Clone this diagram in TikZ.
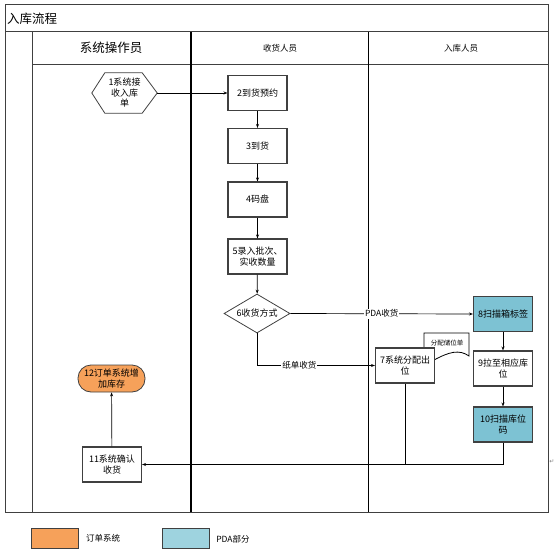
\documentclass[tikz,border=0pt]{standalone}
\usepackage{fontspec}
\setmainfont{Noto Sans CJK SC}
\newfontfamily\symfont{DejaVu Sans}
\usetikzlibrary{arrows.meta,shapes.geometric}
\definecolor{ordercol}{HTML}{F6A15A}
\definecolor{pdacol}{HTML}{7DC2D3}
\definecolor{pdalight}{HTML}{9ED3DF}
\definecolor{edgecol}{HTML}{404040}
\tikzset{
  frame/.style={draw=edgecol,line width=1pt},
  box/.style={draw=edgecol,line width=1.1pt,fill=white,minimum width=59pt,minimum height=35pt,
    inner sep=1pt,align=center,font=\fontsize{9}{11}\selectfont},
  flow/.style={line width=0.7pt,-{Stealth[length=4pt,width=3pt]}},
  tag/.style={fill=white,inner sep=1pt,font=\fontsize{8.5}{10}\selectfont}
}
\begin{document}
\begin{tikzpicture}[x=1pt,y=-1pt]
\useasboundingbox (0,0) rectangle (556,553);
% swim lanes
\draw[frame] (5,5) rectangle (548,512);
\draw[frame] (5,32)--(548,32);
\draw[frame] (32,65)--(548,65);
\draw[frame] (32,32)--(32,512);
\draw[line width=1.6pt] (191,32)--(191,512);
\draw[frame,draw=black] (368,32)--(368,512);
\node[anchor=west,inner sep=0,font=\fontsize{12.5}{14}\selectfont] (title) at (7,19) {入库流程};
\node[font=\fontsize{12.5}{14}\selectfont] (lane1) at (111,48) {系统操作员};
\node[font=\fontsize{8.5}{10}\selectfont] (lane2) at (280,48) {收货人员};
\node[font=\fontsize{8.5}{10}\selectfont] (lane3) at (461,48) {入库人员};
% steps
\node[minimum width=65pt,minimum height=40pt,inner sep=0,align=center,font=\fontsize{9}{10.5}\selectfont] (n1) at (124.5,93) {1系统接\\收入库\\单};
\draw[line width=0.8pt,draw=edgecol] (n1.west)--([xshift=13pt]n1.north west)--([xshift=-15pt]n1.north east)
  --(n1.east)--([xshift=-15pt]n1.south east)--([xshift=13pt]n1.south west)--cycle;
\node[box] (n2) at (257.5,93) {2到货预约};
\node[box] (n3) at (257.5,146) {3到货};
\node[box] (n4) at (257.5,199.5) {4码盘};
\node[box] (n5) at (257.5,256.5) {5录入批次、\\实收数量};
\node[diamond,aspect=1.7,draw=edgecol,line width=0.8pt,minimum width=66pt,minimum height=39pt,inner sep=0,
  font=\fontsize{9}{11}\selectfont] (n6) at (257,313.5) {6收货方式};
\node[box,fill=pdacol] (n8) at (503,314) {8扫描箱标签};
\node[box] (n9) at (503,368.5) {9拉至相应库\\位};
\node[box,fill=pdacol] (n10) at (503,424.5) {10扫描库位\\码};
% paper slip
\draw[line width=0.8pt] (424,333)--(469,333)--(469,356) .. controls (459,349) and (449,352) .. (434,360)--(424,360)--cycle;
\node[inner sep=0,font=\fontsize{6.5}{7}\selectfont] (slip) at (447,343) {分配储位单};
\node[box] (n7) at (405,365.5) {7系统分配出\\位};
\node[box] (n11) at (112,464.5) {11系统确认\\收货};
\node[draw=edgecol,line width=0.8pt,fill=ordercol,rounded corners=13pt,minimum width=67pt,minimum height=27pt,
  inner sep=0,align=center,font=\fontsize{9}{11}\selectfont] (n12) at (111.5,378.5) {12订单系统增\\加库存};
% connectors
\draw[flow] (n1.east)--(n2.west);
\draw[flow] (n2)--(n3);
\draw[flow] (n3)--(n4);
\draw[flow] (n4)--(n5);
\draw[flow] (n5)--(n6);
\draw[flow] (n6.east)--node[tag,pos=0.5] {PDA收货} (n8.west);
\draw[flow] (n6.south)|-node[tag,pos=0.68] {纸单收货} (n7.west);
\draw[flow] (n8)--(n9);
\draw[flow] (n9)--(n10);
\draw[flow] (n10.south)|-(n11.east);
\draw[line width=0.7pt] (n7.south)--(n7.south|-n11.east);
\draw[flow] (n11)--(n12);
\node[inner sep=0,text=gray,font=\symfont\fontsize{6}{7}\selectfont] (mark) at (552,462) {↵};
% legend
\node[draw=edgecol,line width=0.8pt,fill=ordercol,minimum width=47pt,minimum height=20pt] (key1) at (54.5,538) {};
\node[font=\fontsize{8.5}{10}\selectfont] (key1t) at (103,538) {订单系统};
\node[draw=edgecol,line width=0.8pt,fill=pdalight,minimum width=47pt,minimum height=20pt] (key2) at (185.5,538) {};
\node[font=\fontsize{8.5}{10}\selectfont] (key2t) at (233,539) {PDA部分};
\end{tikzpicture}
\end{document}
